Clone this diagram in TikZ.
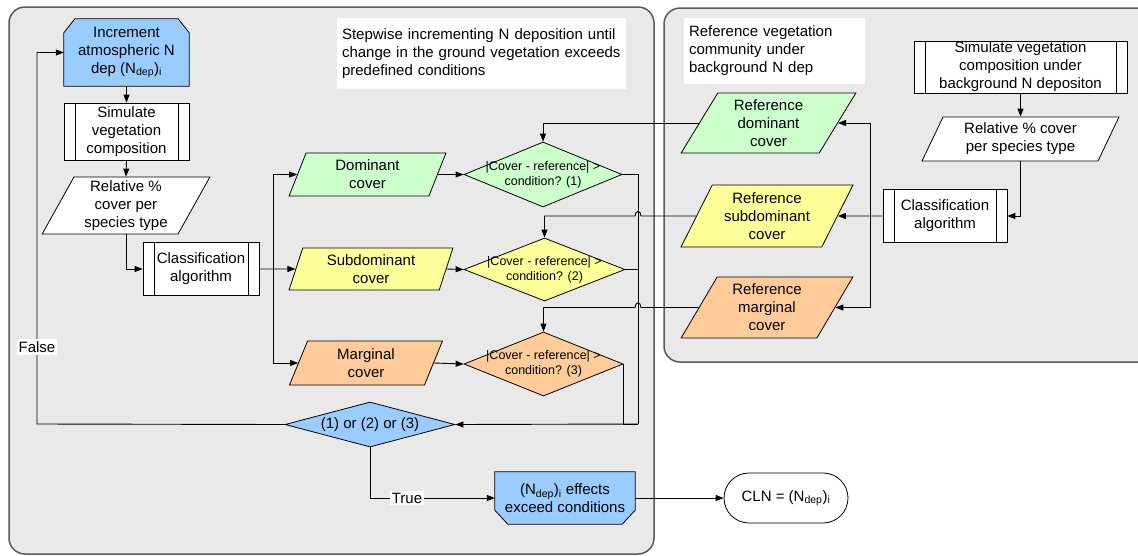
\documentclass[tikz,border=0pt]{standalone}
\usepackage{fontspec}
\setmainfont{Liberation Sans}
\usetikzlibrary{shapes.geometric,shapes.misc,arrows.meta,calc}
\pgfdeclarelayer{bg}
\pgfdeclarelayer{shp}
\pgfsetlayers{bg,shp,main}
\definecolor{cblue}{HTML}{99CCFF}
\definecolor{cgreen}{HTML}{CCFFCC}
\definecolor{cyellow}{HTML}{FFFF99}
\definecolor{corange}{HTML}{FFCC99}
\definecolor{cpanel}{HTML}{E9E9E9}
\definecolor{cpanelline}{HTML}{5A5A5A}
\tikzset{
  nline/.style={draw=black, line width=0.8pt},
  conn/.style={draw=black, line width=0.9pt},
  arr/.style={conn, -{Triangle[length=8pt,width=6pt]}},
  proc/.style={rectangle, nline, fill=white, inner sep=0pt, align=center,
    path picture={\draw[line width=0.8pt]
      ([xshift=11pt]path picture bounding box.north west) -- ([xshift=11pt]path picture bounding box.south west)
      ([xshift=-11pt]path picture bounding box.north east) -- ([xshift=-11pt]path picture bounding box.south east);}},
  para/.style={trapezium, trapezium left angle=#1, trapezium right angle=180-#1,
    trapezium stretches=true, nline, inner sep=0pt, align=center},
  dia/.style={diamond, nline, inner sep=0pt},
  dtext/.style={font=\fontsize{12.5}{15}\selectfont, align=center, inner sep=0pt},
  plain/.style={draw=none, inner sep=0pt, align=center},
  tbox/.style={fill=white, inner xsep=5pt, inner ysep=0pt, align=left},
  lab/.style={fill=white, inner sep=2pt},
  panel/.style={fill=cpanel, draw=cpanelline, line width=1.5pt, rounded corners=16pt}
}
\begin{document}
\begin{tikzpicture}[x=1pt, y=-1pt, font=\fontsize{15}{18}\selectfont]
\useasboundingbox (0,0) rectangle (1138,555);

\begin{pgfonlayer}{bg}
  \path[panel] (9,7) rectangle (654,554);
  \path[panel] (664,8) rectangle (1170,362);
\end{pgfonlayer}

% ---- left panel nodes
\node[plain, minimum width=125pt, minimum height=67pt] (inc) at (126.5,52.5)
  {Increment\\atmospheric N\\dep (N\textsubscript{dep})\textsubscript{i}};
\node[proc, minimum width=125pt, minimum height=57pt] (sim) at (126.5,131.5)
  {Simulate\\vegetation\\composition};
\node[para=63, fill=white, minimum width=168pt, minimum height=57pt] (rel) at (126,205.5)
  {Relative \%\\cover per\\species type};
\node[proc, minimum width=116pt, minimum height=53pt] (cls) at (201,269)
  {Classification\\algorithm};
\node[para=73, fill=cgreen, minimum width=157pt, minimum height=43pt] (dom) at (367.5,174.5)
  {Dominant\\cover};
\node[para=73, fill=cyellow, minimum width=164pt, minimum height=42pt] (sub) at (371,269)
  {Subdominant\\cover};
\node[para=73, fill=corange, minimum width=154pt, minimum height=44pt] (mar) at (366,363)
  {Marginal\\cover};
\node[dia, fill=cgreen, minimum width=158pt, minimum height=65pt,
  label={[dtext]center:{|Cover - reference| >\\condition? (1)}}] (d1) at (543,174.5) {};
\node[dia, fill=cyellow, minimum width=161pt, minimum height=63pt,
  label={[dtext]center:{|Cover - reference| >\\condition? (2)}}] (d2) at (544.5,269.5) {};
\node[dia, fill=corange, minimum width=159pt, minimum height=64pt,
  label={[dtext]center:{|Cover - reference| >\\condition? (3)}}] (d3) at (543.5,364) {};
\node[dia, fill=cblue, minimum width=170pt, minimum height=45pt,
  label={[plain]center:{(1) or (2) or (3)}}] (d4) at (370,424.5) {};
\node[plain, minimum width=140pt, minimum height=52pt] (eff) at (565,498)
  {(N\textsubscript{dep})\textsubscript{i} effects\\exceed conditions};
\node[rounded rectangle, nline, fill=white, inner sep=0pt, minimum width=124pt, minimum height=50pt] (cln) at (786,498)
  {CLN = (N\textsubscript{dep})\textsubscript{i}};
\node[tbox, text width=279pt, minimum height=71pt] (step) at (481.5,53.5)
  {Stepwise incrementing N deposition until\\change in the ground vegetation exceeds\\predefined conditions};

% ---- right panel nodes
\node[tbox, text width=171pt, minimum height=66pt] (refb) at (774.5,51)
  {Reference vegetation\\community under\\background N dep};
\node[proc, minimum width=213pt, minimum height=52pt] (rsim) at (1020.5,67)
  {Simulate vegetation\\composition under\\background N depositon};
\node[para=64.5, fill=white, minimum width=197pt, minimum height=44pt] (rrel) at (1020.5,139)
  {Relative \% cover\\per species type};
\node[proc, minimum width=124pt, minimum height=53pt] (rcls) at (945,216)
  {Classification\\algorithm};
\node[para=62, fill=cgreen, minimum width=175pt, minimum height=60pt] (rdom) at (768.5,123)
  {Reference\\dominant\\cover};
\node[para=62.5, fill=cyellow, minimum width=172pt, minimum height=62pt] (rsub) at (767,216)
  {Reference\\subdominant\\cover};
\node[para=62, fill=corange, minimum width=172pt, minimum height=61pt] (rmar) at (767,307.5)
  {Reference\\marginal\\cover};

% ---- chamfered shapes
\begin{pgfonlayer}{shp}
  \filldraw[nline, fill=cblue] (inc.south west) -- ($(inc.north west)+(0,14)$) -- ($(inc.north west)+(11,0)$)
    -- ($(inc.north east)+(-11,0)$) -- ($(inc.north east)+(0,14)$) -- (inc.south east) -- cycle;
  \filldraw[nline, fill=cblue] (eff.north west) -- ($(eff.south west)+(0,-14)$) -- ($(eff.south west)+(13,0)$)
    -- ($(eff.south east)+(-13,0)$) -- ($(eff.south east)+(0,-14)$) -- (eff.north east) -- cycle;
\end{pgfonlayer}

% ---- coordinates
\coordinate (br) at (273,269);
\coordinate (col) at (638,424);
\coordinate (fl) at (37,424);
\coordinate (jn) at (870,216);

% ---- left connectors
\draw[arr] (inc.south) -- (sim.north);
\draw[arr] (sim.south) -- (rel.north);
\draw[arr] (rel.south) |- (cls.west);
\draw[arr] (cls.east) -- (sub.west);
\draw[arr] (br) |- (dom.west);
\draw[arr] (br) |- (mar.west);
\draw[arr] (dom.east) -- (d1.west);
\draw[arr] (sub.east) -- (d2.west);
\draw[arr] (mar.east) -- (d3.west);
\draw[conn] (d1.east) -| (col);
\draw[conn] (d2.east) -| (col);
\draw[conn] (d3.east) |- (col);
\draw[arr] (col) -- (d4.east);
\draw[arr] (d4.west) -- (fl) |- (inc.west);
\node[lab] (flab) at (37,347) {False};
\draw[arr] (d4.south) |- (eff.west);
\node[lab] (tlab) at (407,498) {True};
\draw[arr] (eff.east) -- (cln.west);

% ---- reference connectors
\draw[arr] (rdom.west) -| (d1.north);
\draw[arr] (rsub.west) -- ($(rsub.west -| col)+(3,0)$)
  .. controls ($(rsub.west -| col)+(3,-6)$) and ($(rsub.west -| col)+(-3,-6)$) ..
  ($(rsub.west -| col)+(-3,0)$) -| (d2.north);
\draw[arr] (rmar.west) -- ($(rmar.west -| col)+(3,0)$)
  .. controls ($(rmar.west -| col)+(3,-6)$) and ($(rmar.west -| col)+(-3,-6)$) ..
  ($(rmar.west -| col)+(-3,0)$) -| (d3.north);

% ---- right connectors
\draw[arr] (rsim.south) -- (rrel.north);
\draw[arr] (rrel.south) |- (rcls.east);
\draw[arr] (rcls.west) -- (rsub.east);
\draw[arr] (jn) |- (rdom.east);
\draw[arr] (jn) |- (rmar.east);
\end{tikzpicture}
\end{document}
